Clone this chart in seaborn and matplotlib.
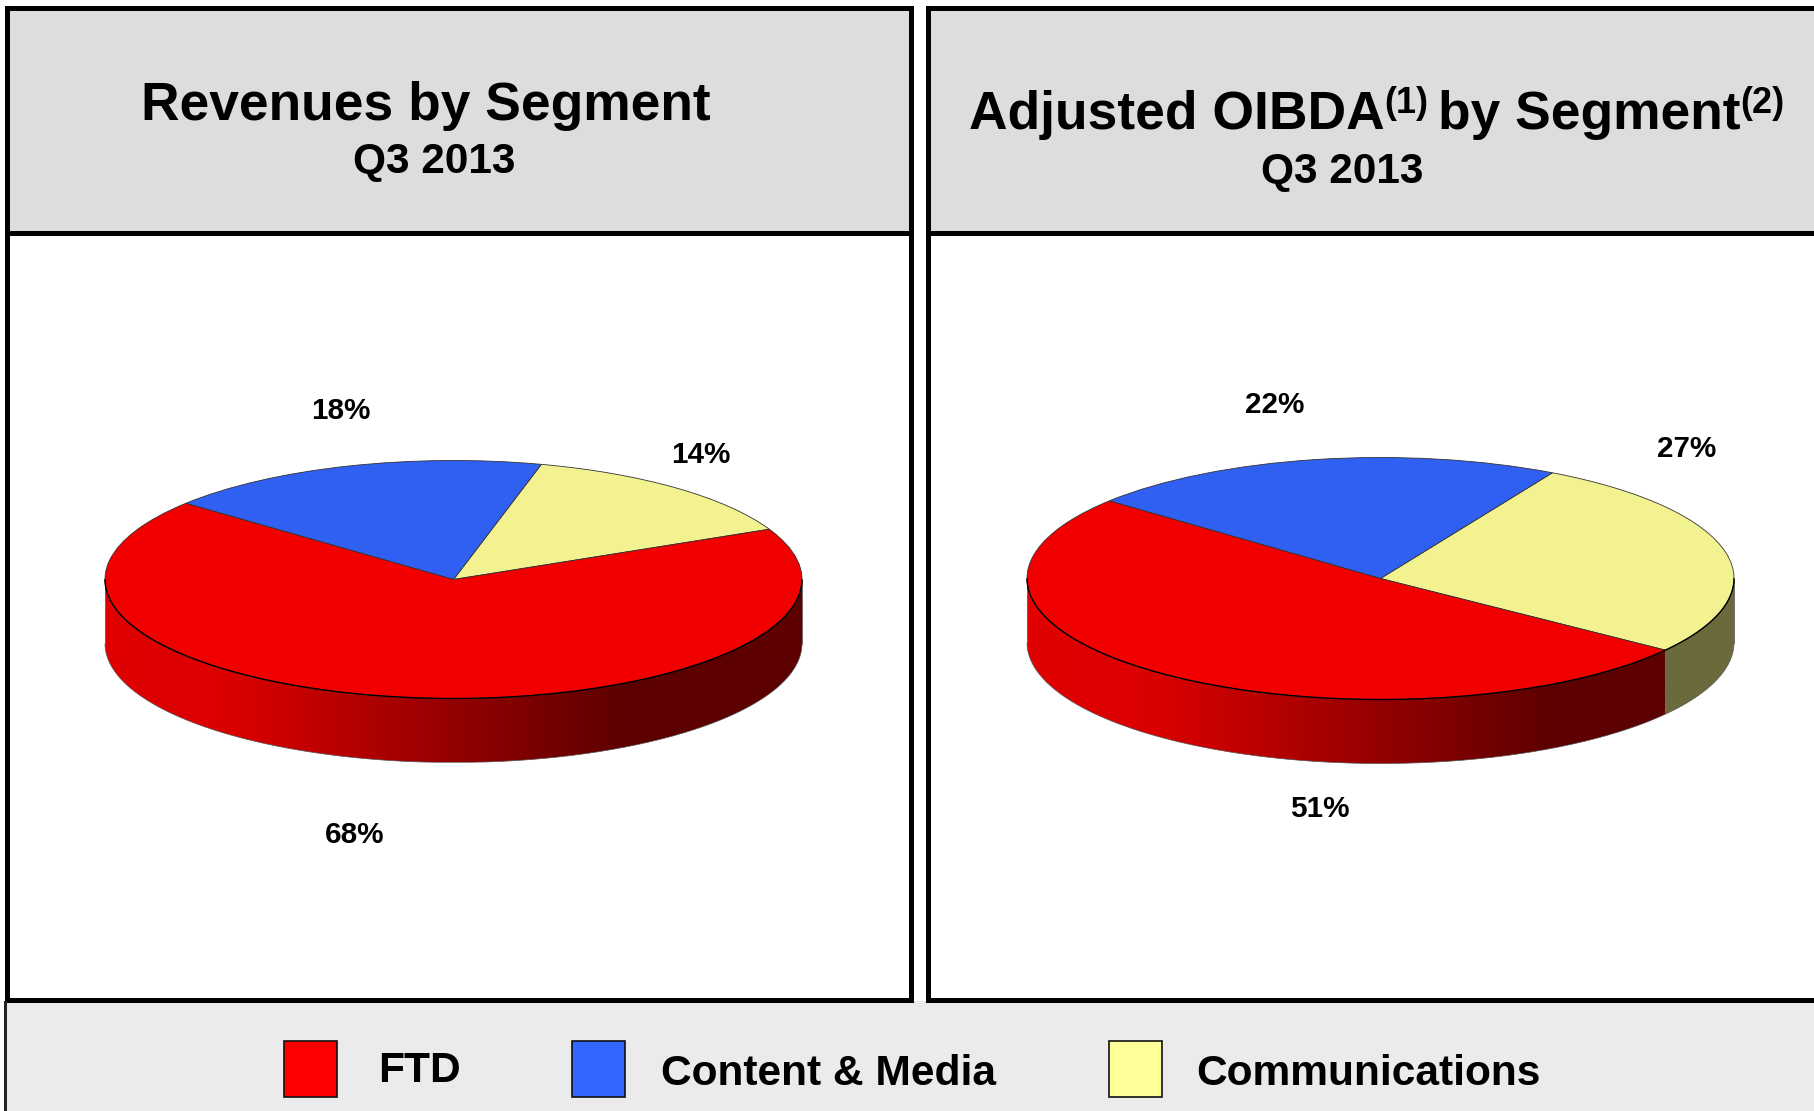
import numpy as np
import seaborn as sns
import matplotlib
matplotlib.use('Agg')
import matplotlib.pyplot as plt
from matplotlib.patches import Rectangle, Polygon

sns.set_theme(style="white")
plt.rcParams['font.family'] = ['Liberation Sans', 'DejaVu Sans']

segments = ['FTD', 'Content & Media', 'Communications']
revenues = [68, 18, 14]
oibda = [51, 22, 27]

top_colors = sns.color_palette(['#f20000', '#3060f2', '#f3f291'])
legend_colors = sns.color_palette(['#ff0000', '#3366ff', '#ffff99'])
red_wall = np.array(sns.blend_palette(['#e00000', '#5c0000'], 200))
olive_wall = '#6a6a3c'

W, H = 1814, 1111
fig = plt.figure(figsize=(W / 100, H / 100), dpi=100)

# page layer, pixel coordinates
bg = fig.add_axes([0, 0, 1, 1])
bg.set_xlim(0, W)
bg.set_ylim(H, 0)
bg.axis('off')


def box(x0, y0, x1, y1, color, z=1):
    bg.add_patch(Rectangle((x0, y0), x1 - x0, y1 - y0, facecolor=color, edgecolor='none', zorder=z))


# headers and legend band
box(8, 10, 912, 233, '#dddddd')
box(929, 10, W, 233, '#dddddd')
box(5, 1001, W, H, '#ebebeb')

# panel rules
for x0, x1 in [(5, 10), (909, 914), (926, 931)]:
    box(x0, 6, x1, 1002, '#000000', 2)
for x0, x1 in [(5, 914), (926, W)]:
    box(x0, 6, x1, 11, '#000000', 2)
    box(x0, 231, x1, 236, '#000000', 2)
    box(x0, 998, x1, 1003, '#000000', 2)
box(4, 1001, 7, H, '#222222', 2)


def draw_pie(values, start, cx, cy, rx, ry, depth):
    # slices go yellow, blue, red counter-clockwise from start
    vals = np.array(values[::-1], dtype=float)
    cols = top_colors[::-1]
    pad = 0.03
    d = depth / ry
    x0, x1 = cx - rx * (1 + pad), cx + rx * (1 + pad)
    y0, y1 = cy - ry * (1 + pad), cy + ry * (1 + d + pad)
    ax = fig.add_axes([x0 / W, 1 - y1 / H, (x1 - x0) / W, (y1 - y0) / H])
    ax.pie(vals, startangle=start, colors=cols, radius=1, frame=False,
           wedgeprops=dict(edgecolor='#333333', linewidth=0.6, zorder=5))

    # side wall: shaded image clipped to each visible slice
    grad_x = np.linspace(-1, 1, 600)
    pos = np.interp(grad_x, [-1, -0.64, 0.5, 1], [0, 0.04, 1, 1])
    grad = red_wall[(pos * 199).astype(int)][np.newaxis, :, :]

    edges = start + np.concatenate([[0], np.cumsum(vals)]) / vals.sum() * 360
    for i in range(len(vals)):
        for k in (-360, 0, 360):
            a, b = max(edges[i] + k, 180), min(edges[i + 1] + k, 360)
            if b <= a:
                continue
            t = np.radians(np.linspace(a, b, 200))
            top = np.column_stack([np.cos(t), np.sin(t)])
            low = np.column_stack([np.cos(t), np.sin(t) - d])[::-1]
            outline = np.vstack([top, low])
            if i == 2:
                clip = Polygon(outline, closed=True, transform=ax.transData, facecolor='none', edgecolor='none')
                ax.add_patch(clip)
                im = ax.imshow(grad, extent=(-1, 1, -1 - d, 0), aspect='auto',
                               interpolation='bilinear', zorder=2)
                im.set_clip_path(clip)
            else:
                ax.add_patch(Polygon(outline, closed=True, facecolor=olive_wall, edgecolor='none', zorder=2))

    ax.set_aspect('auto')
    ax.set_xlim(-1 - pad, 1 + pad)
    ax.set_ylim(-1 - d - pad, 1 + pad)
    ax.patch.set_alpha(0)

    # rim lines
    t = np.radians(np.linspace(180, 360, 300))
    ax.plot(np.cos(t), np.sin(t), color='#000000', lw=1.0, zorder=6)
    ax.plot(np.cos(t), np.sin(t) - d, color='#555555', lw=0.5, zorder=3)
    ax.plot([-1, -1], [0, -d], color='#777777', lw=0.5, zorder=3)
    ax.plot([1, 1], [0, -d], color='#333333', lw=0.5, zorder=3)
    return ax


draw_pie(revenues, 25, 453.5, 579.5, 348.5, 119, 64)
draw_pie(oibda, -36.3, 1380.5, 578.5, 353.5, 121, 64)

# percent labels
for val, (x, y) in zip(revenues, [(355, 835), (341, 411), (701, 455)]):
    bg.text(x, y, f'{val}%', fontsize=21.3, fontweight='bold', color='black', ha='center', va='center')
for val, (x, y) in zip(oibda, [(1320, 809), (1275, 405), (1687, 449)]):
    bg.text(x, y, f'{val}%', fontsize=21.3, fontweight='bold', color='black', ha='center', va='center')

# headers
bg.text(426, 106, 'Revenues by Segment', fontsize=38.4, fontweight='bold', ha='center', va='center', color='black')
bg.text(434, 162, 'Q3 2013', fontsize=30.5, fontweight='bold', ha='center', va='center', color='black')
bg.text(1342, 172, 'Q3 2013', fontsize=30.5, fontweight='bold', ha='center', va='center', color='black')
for txt, x, base, size in [('Adjusted OIBDA', 969, 129, 38.4), ('(1)', 1384, 113, 26),
                           ('by Segment', 1438, 129, 38.4), ('(2)', 1740, 113, 26)]:
    bg.text(x, base, txt, fontsize=size, fontweight='bold', ha='left', va='baseline', color='black')

# legend
for name, col, sx, tx, ty in zip(segments, legend_colors, [284, 572, 1109], [378, 661, 1196], [1071, 1074, 1074]):
    bg.add_patch(Rectangle((sx, 1041), 53, 56, facecolor=col, edgecolor='#111111', linewidth=1.2, zorder=3))
    bg.text(tx, ty, name, fontsize=30.6, fontweight='bold', ha='left', va='center', color='black')

plt.savefig('out.png', dpi=100)
